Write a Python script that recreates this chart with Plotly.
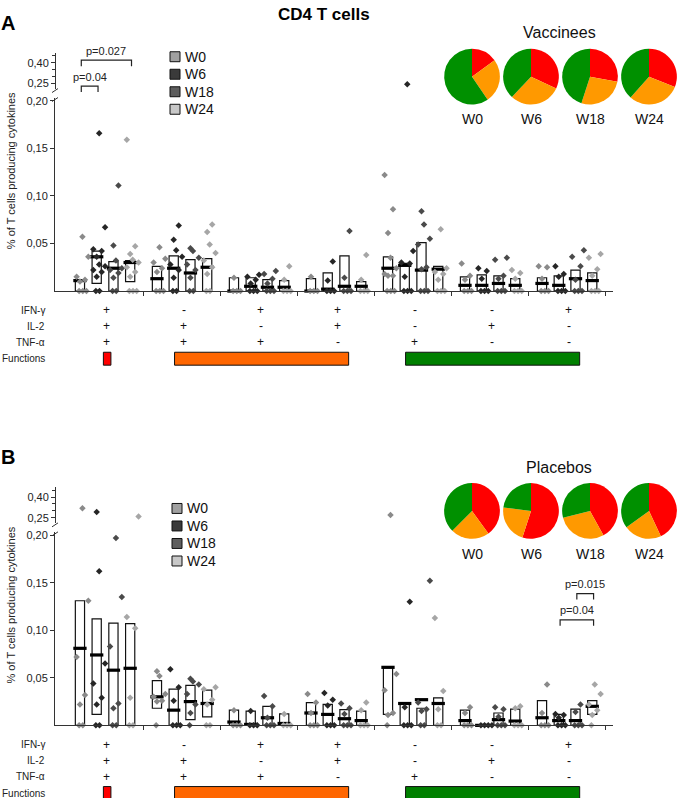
import plotly.graph_objects as go

# ---------------- data ----------------
weeks = ["W0", "W6", "W18", "W24"]
ifn_row = ["+", "-", "+", "+", "-", "-", "+"]
il2_row = ["+", "+", "-", "+", "-", "+", "-"]
tnf_row = ["+", "+", "+", "-", "+", "-", "-"]

# Vaccinees (panel A): 7 cytokine combinations x 4 weeks (group-major order)
vac_q1 = [0, 0.008, 0, 0.010,  0, 0, 0, 0,  0, 0, 0, 0,  0, 0, 0, 0,
          0, 0, 0, 0,  0, 0, 0, 0,  0, 0, 0, 0]
vac_med = [0.011, 0.036, 0.024, 0.030,  0.013, 0.024, 0.019, 0.025,  0.0, 0.005, 0.004, 0.004,
           0.0, 0.002, 0.005, 0.005,  0.024, 0.027, 0.022, 0.023,  0.006, 0.006, 0.008, 0.006,
           0.008, 0.006, 0.013, 0.011]
vac_q3 = [0.012, 0.042, 0.031, 0.032,  0.026, 0.037, 0.033, 0.034,  0.014, 0.014, 0.012, 0.011,
          0.013, 0.019, 0.037, 0.010,  0.036, 0.029, 0.051, 0.026,  0.015, 0.017, 0.016, 0.013,
          0.014, 0.016, 0.022, 0.019]
vac_pts = [
    [0, 0, 0, 0.010, 0.012, 0.015, 0.036, 0.057],
    [0, 0, 0.015, 0.020, 0.022, 0.026, 0.028, 0.036, 0.042, 0.044, 0.067, 0.166],
    [0, 0, 0.014, 0.019, 0.022, 0.024, 0.032, 0.048, 0.111],
    [0, 0, 0, 0.015, 0.020, 0.025, 0.030, 0.033, 0.039, 0.047, 0.159],
    [0, 0, 0, 0.020, 0.024, 0.030, 0.034, 0.046],
    [0, 0, 0.014, 0.022, 0.028, 0.036, 0.043, 0.054, 0.069],
    [0, 0, 0.014, 0.022, 0.028, 0.035, 0.042, 0.045],
    [0, 0, 0.018, 0.025, 0.032, 0.040, 0.049, 0.062, 0.070],
    [0, 0, 0, 0.014],
    [0, 0, 0, 0.008, 0.012, 0.015, 0.017],
    [0, 0, 0, 0.008, 0.013, 0.018, 0.021],
    [0, 0, 0, 0.012, 0.026],
    [0, 0, 0, 0.015],
    [0, 0, 0, 0.011, 0.031],
    [0, 0, 0, 0.014, 0.063],
    [0, 0, 0, 0.012, 0.038],
    [0, 0, 0, 0.016, 0.016, 0.018, 0.024, 0.035, 0.061, 0.086, 0.122],
    [0, 0, 0, 0.015, 0.029, 0.030, 0.042, 0.245],
    [0, 0, 0, 0.023, 0.025, 0.049, 0.055, 0.070, 0.084],
    [0, 0, 0, 0.012, 0.018, 0.020, 0.024, 0.065],
    [0, 0, 0, 0.012, 0.016, 0.029],
    [0, 0, 0, 0.013, 0.021, 0.024],
    [0, 0, 0, 0.013, 0.016, 0.033, 0.035],
    [0, 0, 0, 0.013, 0.019, 0.022],
    [0, 0, 0, 0.013, 0.025, 0.026],
    [0, 0, 0, 0.015, 0.018, 0.026],
    [0, 0, 0, 0.012, 0.026, 0.036, 0.043],
    [0, 0, 0, 0.016, 0.023, 0.035, 0.039],
]

# Placebos (panel B)
pla_q1 = [0, 0.0115, 0, 0,  0.018, 0, 0.006, 0.009,  0, 0, 0, 0,  0, 0, 0, 0,
          0.0115, 0, 0, 0,  0, 0, 0, 0,  0, 0, 0, 0.0115]
pla_med = [0.081, 0.074, 0.058, 0.060,  0.030, 0.016, 0.025, 0.023,  0.0035, 0.001, 0.008, 0.002,
           0.013, 0.0115, 0.007, 0.005,  0.061, 0.023, 0.027, 0.023,  0.005, 0.0, 0.006, 0.0045,
           0.008, 0.005, 0.005, 0.020]
pla_q3 = [0.131, 0.112, 0.1075, 0.107,  0.047, 0.038, 0.042, 0.037,  0.016, 0.015, 0.020, 0.012,
          0.024, 0.022, 0.0165, 0.015,  0.061, 0.023, 0.018, 0.029,  0.016, 0.0, 0.013, 0.017,
          0.026, 0.0115, 0.017, 0.026]
pla_pts = [
    [0, 0, 0.022, 0.032, 0.072, 0.131, 0.32],
    [0, 0, 0.022, 0.029, 0.044, 0.065, 0.162, 0.293],
    [0, 0, 0.018, 0.023, 0.083, 0.135, 0.197],
    [0, 0, 0.029, 0.102, 0.114, 0.26],
    [0, 0.025, 0.026, 0.030, 0.033, 0.052, 0.057],
    [0, 0, 0, 0.026, 0.040, 0.059],
    [0, 0.013, 0.022, 0.033, 0.043, 0.046, 0.049],
    [0, 0, 0.022, 0.027, 0.038, 0.040],
    [0, 0, 0, 0.016],
    [0, 0, 0, 0.015],
    [0, 0, 0, 0.008, 0.020, 0.031],
    [0, 0, 0, 0.012],
    [0, 0, 0, 0.013, 0.024, 0.033],
    [0, 0, 0, 0.021, 0.027, 0.034],
    [0, 0, 0, 0.012, 0.018, 0.023],
    [0, 0, 0, 0.016, 0.024],
    [0, 0.011, 0.013, 0.037, 0.054, 0.27],
    [0, 0, 0, 0.019, 0.130],
    [0, 0, 0.015, 0.017, 0.024, 0.152],
    [0, 0, 0.017, 0.036, 0.113],
    [0, 0, 0, 0.013, 0.019],
    [0, 0, 0, 0],
    [0, 0, 0, 0.009, 0.017, 0.019],
    [0, 0, 0, 0.018, 0.020],
    [0, 0, 0, 0.013, 0.043],
    [0, 0, 0, 0.008, 0.011, 0.012],
    [0, 0, 0, 0.014, 0.022],
    [0, 0.011, 0.016, 0.022, 0.033, 0.043],
]

# significance comparisons: (group, week_from, week_to, label)
vac_sig = [(0, 0, 1, "p=0.04"), (0, 0, 3, "p=0.027")]
pla_sig = [(6, 2, 3, "p=0.015"), (6, 1, 3, "p=0.04")]

# pie proportions (% of response): 3 functions / 2 functions / 1 function
vac_pie_3f = [15, 32, 28, 31]
vac_pie_2f = [25.5, 30, 27, 30.5]
vac_pie_1f = [59.5, 38, 45, 38.5]
pla_pie_3f = [40, 55, 42, 43]
pla_pie_2f = [22.5, 22, 29, 22]
pla_pie_1f = [37.5, 23, 29, 35]

# ---------------- style / layout ----------------
W, H = 677, 798
FONT = "Liberation Sans, Arial, sans-serif"
GROUP_W = 4.6
BOX_W = 0.55
BREAK = 0.2
X_RANGE = [-1.49, 31.84]
PT_COLORS = ["#8a8a8a", "#262626", "#4a4a4a", "#a6a6a6"]
LEG_COLORS = ["#a0a0a0", "#3a3a3a", "#5e5e5e", "#c8c8c8"]
PIE_COLORS = ["#ff0000", "#ff9900", "#009000"]
ZERO_OFF = [-0.05, 0.17, 0.39, 0.61]
NZ_OFF = [0.0, 0.3, -0.2, 0.5, 0.15]


def fx(p):
    return p / W


def fy(p):
    return 1 - p / H


def pos(g, w):
    return g * GROUP_W + w


def ann(x, y, text, size, xref="paper", xanchor="center", **kw):
    d = dict(x=x, y=y, xref=xref, yref="paper", text=text, showarrow=False,
             xanchor=xanchor, yanchor="middle", font=dict(size=size, color=kw.pop("color", "#111")))
    d.update(kw)
    return d


fig = go.Figure()
shapes = []
annotations = []

panels = [
    dict(q1=vac_q1, med=vac_med, q3=vac_q3, pts=vac_pts, sig=vac_sig,
         p3=vac_pie_3f, p2=vac_pie_2f, p1=vac_pie_1f, name="Vaccinees", letter="A",
         xa="x", ylo="y", yhi="y2", off=0, leg_y0=54, leg_x=175,
         sig_y=[83.5, 57.5]),
    dict(q1=pla_q1, med=pla_med, q3=pla_q3, pts=pla_pts, sig=pla_sig,
         p3=pla_pie_3f, p2=pla_pie_2f, p1=pla_pie_1f, name="Placebos", letter="B",
         xa="x2", ylo="y3", yhi="y4", off=436.5, leg_y0=508, leg_x=177,
         sig_y=[593.5, 620]),
]

for P in panels:
    n = len(P["q1"])
    xs = [pos(i // 4, i % 4) for i in range(n)]
    heights = [(b - a) if (b - a) > 0 else None for a, b in zip(P["q1"], P["q3"])]
    fig.add_trace(go.Bar(x=xs, y=heights, base=P["q1"], width=BOX_W,
                         marker=dict(color="white", line=dict(color="#111111", width=1.2)),
                         xaxis=P["xa"], yaxis=P["ylo"], showlegend=False, hoverinfo="skip"))
    fig.add_trace(go.Scatter(x=xs, y=P["med"], mode="markers",
                             marker=dict(symbol="line-ew", size=9.5, color="black",
                                         line=dict(width=3.2, color="black")),
                             xaxis=P["xa"], yaxis=P["ylo"], cliponaxis=False,
                             showlegend=False, hoverinfo="skip"))
    for w in range(4):
        lx, ly, hx, hy = [], [], [], []
        for i in range(w, n, 4):
            nz = zc = 0
            for v in P["pts"][i]:
                if v == 0:
                    o = ZERO_OFF[zc % 4]
                    zc += 1
                else:
                    o = NZ_OFF[nz % 5]
                    nz += 1
                if v > BREAK:
                    hx.append(xs[i] + o)
                    hy.append(v)
                else:
                    lx.append(xs[i] + o)
                    ly.append(v)
        mk = dict(symbol="diamond", size=5, color=PT_COLORS[w])
        fig.add_trace(go.Scatter(x=lx, y=ly, mode="markers", marker=mk, xaxis=P["xa"],
                                 yaxis=P["ylo"], cliponaxis=False, showlegend=False,
                                 name=weeks[w]))
        if hx:
            fig.add_trace(go.Scatter(x=hx, y=hy, mode="markers", marker=mk, xaxis=P["xa"],
                                     yaxis=P["yhi"], cliponaxis=False, showlegend=False,
                                     name=weeks[w]))

    off = P["off"]
    xref = P["xa"]
    # significance brackets
    for (g, a, b, lab), yb in zip(P["sig"], P["sig_y"]):
        x0 = pos(g, a) + 0.08
        x1 = pos(g, b) + 0.08
        shapes.append(dict(type="path", xref=xref, yref="paper",
                           path=f"M {x0},{fy(yb + 6)} L {x0},{fy(yb)} L {x1},{fy(yb)} L {x1},{fy(yb + 6)}",
                           line=dict(color="#222", width=1.2)))
        annotations.append(ann((x0 + x1) / 2, fy(yb - 9.5), lab, 11, xref=xref, color="#222"))
    # manual legend
    for w in range(4):
        cy = P["leg_y0"] + w * 17.6
        shapes.append(dict(type="rect", xref="paper", yref="paper",
                           x0=fx(P["leg_x"] - 5), x1=fx(P["leg_x"] + 5),
                           y0=fy(cy + 5), y1=fy(cy - 5),
                           fillcolor=LEG_COLORS[w], line=dict(color="#111", width=1)))
        annotations.append(ann(fx(P["leg_x"] + 8), fy(cy), weeks[w], 14, xanchor="left"))
    # pies
    pie_cx = [472, 531, 590, 649]
    pie_cy = 74 + off
    for k in range(4):
        fig.add_trace(go.Pie(values=[P["p3"][k], P["p2"][k], P["p1"][k]],
                             labels=["3 functions", "2 functions", "1 function"],
                             sort=False, direction="clockwise", rotation=0,
                             marker=dict(colors=PIE_COLORS, line=dict(width=0)),
                             textinfo="none", hoverinfo="label+percent", showlegend=False,
                             domain=dict(x=[fx(pie_cx[k] - 28), fx(pie_cx[k] + 28)],
                                         y=[fy(pie_cy + 28), fy(pie_cy - 28)])))
        annotations.append(ann(fx(pie_cx[k]), fy(117 + off), weeks[k], 14))
    annotations.append(ann(fx(559), fy(30 + off), P["name"], 16))
    # panel letter
    annotations.append(ann(fx(8), fy(20 + off), f"<b>{P['letter']}</b>", 20, color="#000"))
    # y title
    annotations.append(ann(fx(11), fy(169 + off), "% of T cells producing cytokines", 11,
                           color="#222", textangle=-90))
    # cytokine rows
    rows = [("IFN-γ", ifn_row), ("IL-2", il2_row), ("TNF-α", tnf_row)]
    for r, (lab, vals) in enumerate(rows):
        yy = 309 + 16 * r + off
        annotations.append(ann(fx(47), fy(yy), lab, 10, xanchor="right", color="#222"))
        for g, s in enumerate(vals):
            annotations.append(ann(pos(g, 1.5) + 0.1, fy(yy), s, 12, xref=xref))
    annotations.append(ann(fx(47), fy(357.5 + off), "Functions", 10, xanchor="right", color="#222"))
    fb = [(0, 0, -0.1, 0.35, "#ff0000"), (1, 3, -0.45, 0.75, "#ff6600"),
          (4, 6, -0.45, 0.75, "#008000")]
    for g0, g1, a, b, c in fb:
        shapes.append(dict(type="rect", xref=xref, yref="paper",
                           x0=pos(g0, 1.5) + a, x1=pos(g1, 1.5) + b,
                           y0=fy(364 + off), y1=fy(351 + off),
                           fillcolor=c, line=dict(color="#111", width=1)))
    # axis break marks
    for yb in (88, 97):
        shapes.append(dict(type="line", xref="paper", yref="paper",
                           x0=fx(52), x1=fx(58), y0=fy(yb + off + 2), y1=fy(yb + off - 2),
                           line=dict(color="#333", width=1)))

annotations.append(ann(fx(324), fy(12), "<b>CD4 T cells</b>", 17, color="#000"))
for a in annotations:
    fig.add_annotation(**a)

xcommon = dict(range=X_RANGE, domain=[fx(55), fx(613)], showgrid=False, zeroline=False,
               showline=True, linecolor="#333", linewidth=1, ticks="outside", ticklen=4,
               tickcolor="#333", tickvals=[g * GROUP_W + 3.8 for g in range(7)],
               showticklabels=False, fixedrange=True)
ylo_common = dict(showgrid=False, zeroline=False, showline=True, linecolor="#333",
                  linewidth=1, ticks="outside", ticklen=4, tickcolor="#333",
                  tickvals=[0.05, 0.10, 0.15, 0.20], tickformat=".2f",
                  tickfont=dict(size=11, color="#222"), fixedrange=True)
yhi_common = dict(showgrid=False, zeroline=False, showline=True, linecolor="#333",
                  linewidth=1, ticks="outside", ticklen=4, tickcolor="#333",
                  tickvals=[0.25, 0.40], tickformat=".2f", anchor="free", position=fx(55),
                  tickfont=dict(size=11, color="#222"), fixedrange=True,
                  range=[0.25 - 5 / 140, 0.40 + 10 / 140],
                  minor=dict(tickvals=[0.30, 0.35, 0.45], ticks="outside", ticklen=3,
                             tickcolor="#333"))

fig.update_layout(
    width=W, height=H, margin=dict(l=0, r=0, t=0, b=0),
    paper_bgcolor="white", plot_bgcolor="white",
    font=dict(family=FONT, color="#222"),
    separators=",.", barmode="overlay", showlegend=False,
    shapes=shapes,
    xaxis=dict(anchor="y", **xcommon),
    xaxis2=dict(anchor="y3", **xcommon),
    yaxis=dict(anchor="x", domain=[fy(289.5), fy(95)], range=[0, (289.5 - 95) / 956], **ylo_common),
    yaxis2=dict(domain=[fy(86), fy(50)], **yhi_common),
    yaxis3=dict(anchor="x2", domain=[fy(726), fy(531.5)], range=[0, (726 - 531.5) / 956], **ylo_common),
    yaxis4=dict(domain=[fy(522.5), fy(486.5)], **yhi_common),
)

fig.write_html("out.html", config={"displayModeBar": False},
               post_script="document.body.style.margin='0';document.body.style.overflow='hidden';")
